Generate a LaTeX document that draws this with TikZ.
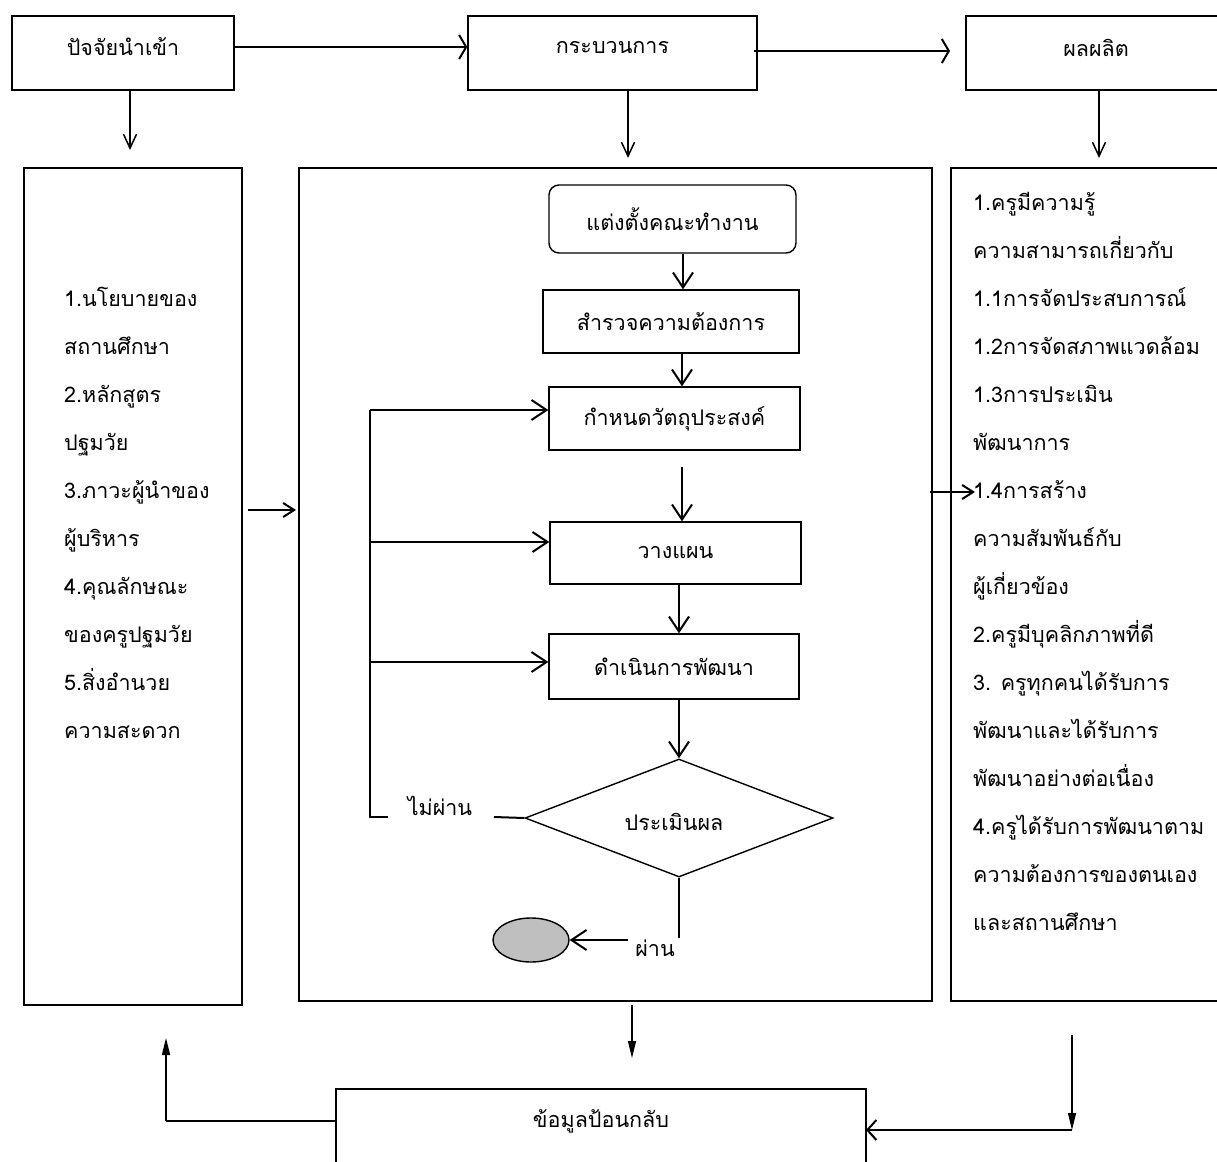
\documentclass[tikz,border=0pt]{standalone}
\usepackage{fontspec}
\newfontfamily\thai[Script=Thai]{Loma}
\usetikzlibrary{arrows.meta,shapes.geometric}
\definecolor{endgray}{RGB}{191,191,191}
\begin{document}
\begin{tikzpicture}[x=1pt,y=-1pt,
  box/.style={draw, line width=1.4pt, inner sep=0pt, font=\thai\fontsize{21.5}{24}\selectfont},
  txt/.style={inner sep=0pt, font=\thai\fontsize{21.5}{24}\selectfont},
  thick barb/.style={line width=2.2pt, -{Straight Barb[length=7pt,width=24pt,line width=2pt]}},
  thin barb/.style={line width=1.3pt, -{Straight Barb[length=14pt,width=13pt,line width=1.5pt]}},
  mid barb/.style={line width=2pt, -{Straight Barb[length=15pt,width=20pt,line width=2pt]}},
  small barb/.style={line width=2pt, -{Straight Barb[length=11pt,width=14pt,line width=2pt]}},
  tri/.style={line width=1.3pt, -{Triangle[length=17pt,width=8pt]}},
  plain/.style={line width=2pt}]
\useasboundingbox (0,0) rectangle (1217,1161);

% ---- top row
\node[box, minimum width=222pt, minimum height=74pt] (in) at (123,53) {};
\node[txt] (inT) at (123,47) {ปัจจัยนำเข้า};
\node[box, minimum width=289pt, minimum height=74pt] (proc) at (612.5,53) {};
\node[txt] (procT) at (612.5,48) {กระบวนการ};
\draw[line width=1.4pt] (1220,16) -- (966,16) -- (966,90) -- (1220,90);
\coordinate (outL) at (966,53);
\node[txt] (outT) at (1096,48) {ผลผลิต};

% ---- big boxes
\node[box, minimum width=218pt, minimum height=837pt] (lbox) at (133,586.5) {};
\node[box, minimum width=633pt, minimum height=833pt] (mbox) at (615.5,584.5) {};
\draw[line width=1.4pt] (1220,168) -- (951,168) -- (951,1001) -- (1220,1001);
\coordinate (rboxIn) at (975,492);

% ---- left text
\foreach \t [count=\i] in {1.นโยบายของ,สถานศึกษา,2.หลักสูตร,ปฐมวัย,3.ภาวะผู้นำของ,ผู้บริหาร,4.คุณลักษณะ,ของครูปฐมวัย,5.สิ่งอำนวย,ความสะดวก}
  \node[txt, anchor=base west] (L\i) at (64,{297+48*(\i-1)+9}) {\t};

% ---- right text
\foreach \t [count=\i] in {1.ครูมีความรู้,ความสามารถเกี่ยวกับ,1.1การจัดประสบการณ์,1.2การจัดสภาพแวดล้อม,1.3การประเมิน,พัฒนาการ,1.4การสร้าง,ความสัมพันธ์กับ,ผู้เกี่ยวข้อง,2.ครูมีบุคลิกภาพที่ดี,3. ครูทุกคนได้รับการ,พัฒนาและได้รับการ,พัฒนาอย่างต่อเนื่อง,4.ครูได้รับการพัฒนาตาม,ความต้องการของตนเอง,และสถานศึกษา}
  \node[txt, anchor=base west] (R\i) at (973,{201+48*(\i-1)+9}) {\t};

% ---- inner flow
\node[box, rounded corners=10pt, minimum width=247pt, minimum height=68pt] (s1) at (672.5,219) {แต่งตั้งคณะทำงาน};
\node[box, minimum width=256pt, minimum height=63pt] (s2) at (671,321.5) {สำรวจความต้องการ};
\node[box, minimum width=251pt, minimum height=63pt] (s3) at (674.5,418.5) {กำหนดวัตถุประสงค์};
\node[box, minimum width=251pt, minimum height=62pt] (s4) at (675.5,553) {วางแผน};
\node[box, minimum width=250pt, minimum height=65pt] (s5) at (674,666.5) {ดำเนินการพัฒนา};
\node[draw, line width=1.4pt, diamond, inner sep=0pt, minimum width=308pt, minimum height=118pt] (dia) at (679,818) {};
\node[txt] (diaT) at (674,822) {ประเมินผล};
\node[draw, line width=1.4pt, ellipse, fill=endgray, minimum width=76pt, minimum height=44pt, inner sep=0pt] (endE) at (531,940) {};

\coordinate (x683) at (683,0);
\coordinate (x682) at (682,0);
\coordinate (x679) at (679,0);
\draw[mid barb] (s1.south -| x683) -- (s2.north -| x683);
\draw[mid barb] (s2.south -| x682) -- (s3.north -| x682);
\coordinate (s34a) at (682,467);
\draw[mid barb] (s34a) -- (s4.north -| s34a);
\draw[mid barb] (s4.south -| x679) -- (s5.north -| x679);
\draw[mid barb] (s5.south -| x679) -- (dia.north);

% feedback loop
\coordinate (fbT) at (370,410);
\coordinate (fb2) at (370,542);
\coordinate (fb3) at (370,662);
\coordinate (fbB) at (370,817);
\node[txt] (np) at (440,806) {ไม่ผ่าน};
\draw[plain] (fbT) -- (fbB) -- (388,817);
\draw[plain] (494,817) -- (dia.west);
\draw[mid barb] (fbT) -- (fbT -| s3.west);
\draw[mid barb] (fb2) -- (fb2 -| s4.west);
\draw[mid barb] (fb3) -- (fb3 -| s5.west);

% pass
\node[txt] (ps) at (655,948) {ผ่าน};
\coordinate (psB) at (679,938);
\draw[plain] (dia.south) -- (psB);
\coordinate (psA) at (628,940);
\draw[mid barb] (psA) -- (endE.east);

% ---- outer arrows
\coordinate (a1) at (234,47);
\draw[thick barb] (a1) -- (a1 -| proc.west);
\coordinate (a2s) at (754,51);
\coordinate (a2e) at (950,51);
\draw[thick barb] (a2s) -- (a2e);

\coordinate (d1) at (130,150);
\draw[thin barb] (in.south -| d1) -- (d1);
\coordinate (d2) at (628,158);
\draw[thin barb] (proc.south -| d2) -- (d2);
\coordinate (d3s) at (1099,90);
\coordinate (d3) at (1099,158);
\draw[thin barb] (d3s) -- (d3);

\coordinate (h1s) at (248,510);
\coordinate (h1e) at (296,510);
\draw[small barb] (h1s) -- (h1e);
\coordinate (h2s) at (930,492);
\draw[small barb] (h2s) -- (rboxIn);

% ---- feedback box
\draw[line width=1.4pt] (336,1165) -- (336,1089) -- (866,1089) -- (866,1165);
\coordinate (fbkW) at (336,1121);
\coordinate (fbkE) at (866,1130);
\node[txt] (fbkT) at (601,1121) {ข้อมูลป้อนกลับ};

\coordinate (m1s) at (632,1005);
\coordinate (m1e) at (632,1058);
\draw[tri] (m1s) -- (m1e);

\coordinate (lc) at (166,1121);
\coordinate (lu) at (166,1038);
\draw[line width=2pt] (fbkW) -- (lc);
\draw[tri] (lc) -- (lu);

\coordinate (rt) at (1072,1035);
\coordinate (rb) at (1072,1130);
\draw[tri] (rt) -- (rb);
\draw[line width=2.2pt, -{Straight Barb[length=9pt,width=20pt,line width=2pt]}] (rb) -- (fbkE);
\end{tikzpicture}
\end{document}
